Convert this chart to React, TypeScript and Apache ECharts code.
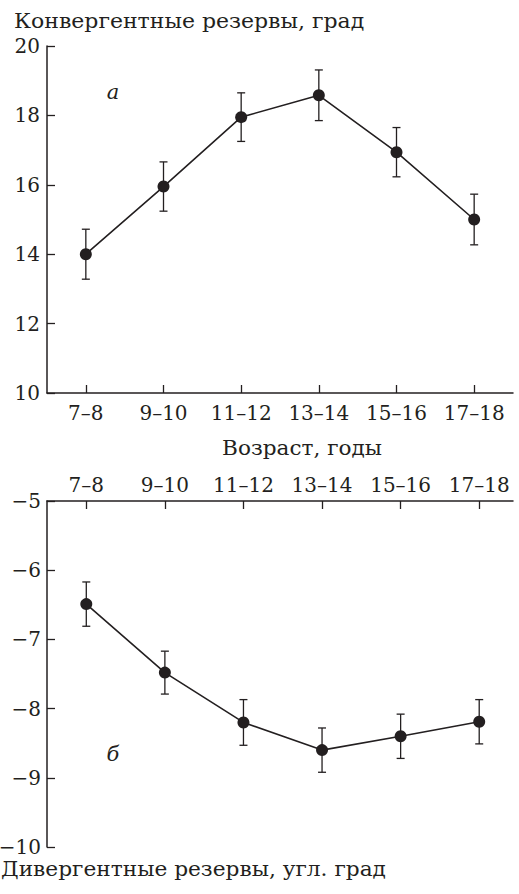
import React, { useEffect, useRef } from "react";
import * as echarts from "echarts";

const categories = ["7–8", "9–10", "11–12", "13–14", "15–16", "17–18"];
const convergent = [14.0, 15.95, 17.95, 18.58, 16.94, 15.0];
const convergentErr = [0.72, 0.71, 0.7, 0.73, 0.71, 0.73];
const divergent = [-6.49, -7.48, -8.2, -8.6, -8.4, -8.19];
const divergentErr = [0.32, 0.31, 0.33, 0.32, 0.32, 0.32];
const convTicks = [10, 12, 14, 16, 18, 20];
const divTicks = [-10, -9, -8, -7, -6, -5];

const FONT = "DejaVu Serif";
const INK = "#231f20";

function errorSeries(xAxisIndex: number, yAxisIndex: number, values: number[], errs: number[]) {
  return {
    type: "custom",
    xAxisIndex,
    yAxisIndex,
    silent: true,
    z: 3,
    data: values.map((v, i) => [i, v, errs[i]]),
    renderItem: (params: any, api: any) => {
      const x = api.value(0);
      const v = api.value(1);
      const e = api.value(2);
      const top = api.coord([x, v + e]);
      const bot = api.coord([x, v - e]);
      const hw = 4;
      const style = { stroke: INK, lineWidth: 1.3 };
      return {
        type: "group",
        children: [
          { type: "line", shape: { x1: top[0], y1: top[1], x2: bot[0], y2: bot[1] }, style },
          { type: "line", shape: { x1: top[0] - hw, y1: top[1], x2: top[0] + hw, y2: top[1] }, style },
          { type: "line", shape: { x1: bot[0] - hw, y1: bot[1], x2: bot[0] + hw, y2: bot[1] }, style },
        ],
      };
    },
  };
}

export default function App() {
  const ref = useRef<HTMLDivElement>(null);
  useEffect(() => {
    const chart = echarts.init(ref.current!, null, { renderer: "svg" });
    const axisLine = { show: true, onZero: false, lineStyle: { color: INK, width: 1.5 } };
    const axisTick = { show: true, inside: true, length: 8, lineStyle: { color: INK, width: 1.3 } };
    const labelStyle = { color: INK, fontFamily: FONT, fontSize: 20 };
    const idx = categories.map((_, i) => i);
    const minus = (v: number) => (v < 0 ? "−" + Math.abs(v) : String(v));
    const titleFont = `20px ${FONT}`;
    chart.setOption({
      animation: false,
      backgroundColor: "#ffffff",
      grid: [
        { left: 47, top: 46, width: 466, height: 347, outerBoundsMode: "none", containLabel: false },
        { left: 47, top: 501, width: 466, height: 346, outerBoundsMode: "none", containLabel: false },
      ],
      xAxis: [
        {
          type: "value",
          gridIndex: 0,
          min: -0.5,
          max: 5.5,
          interval: 0.5,
          splitLine: { show: false },
          axisLine,
          axisTick: { ...axisTick, customValues: idx },
          axisLabel: {
            ...labelStyle,
            margin: 10,
            customValues: idx,
            formatter: (v: number) => categories[Math.round(v)] ?? "",
          },
        },
        {
          type: "value",
          gridIndex: 1,
          position: "top",
          min: -0.5,
          max: 5.43,
          interval: 0.01,
          splitLine: { show: false },
          axisLine,
          axisTick: { ...axisTick, customValues: idx },
          axisLabel: {
            ...labelStyle,
            margin: 6,
            customValues: idx,
            formatter: (v: number) => categories[Math.round(v)] ?? "",
          },
        },
      ],
      yAxis: [
        {
          type: "value",
          gridIndex: 0,
          min: convTicks[0],
          max: convTicks[convTicks.length - 1],
          interval: 2,
          splitLine: { show: false },
          axisLine,
          axisTick,
          axisLabel: { ...labelStyle, margin: 7 },
        },
        {
          type: "value",
          gridIndex: 1,
          min: divTicks[0],
          max: divTicks[divTicks.length - 1],
          interval: 1,
          splitLine: { show: false },
          axisLine,
          axisTick,
          axisLabel: { ...labelStyle, margin: 6, formatter: minus },
        },
      ],
      graphic: [
        {
          type: "text",
          x: 14,
          y: 21,
          scaleX: 1.1,
          style: { text: "Конвергентные резервы, град", fill: INK, font: titleFont, verticalAlign: "middle" },
        },
        {
          type: "text",
          x: 302,
          y: 448,
          scaleX: 1.08,
          style: { text: "Возраст, годы", fill: INK, font: titleFont, align: "center", verticalAlign: "middle" },
        },
        {
          type: "text",
          x: 1,
          y: 869,
          scaleX: 1.085,
          style: { text: "Дивергентные резервы, угл. град", fill: INK, font: titleFont, verticalAlign: "middle" },
        },
        {
          type: "text",
          x: 113,
          y: 92,
          style: { text: "а", fill: INK, font: `italic 21px ${FONT}`, align: "center", verticalAlign: "middle" },
        },
        {
          type: "text",
          x: 113,
          y: 754,
          style: { text: "б", fill: INK, font: `italic 21px ${FONT}`, align: "center", verticalAlign: "middle" },
        },
      ],
      series: [
        errorSeries(0, 0, convergent, convergentErr),
        {
          type: "line",
          xAxisIndex: 0,
          yAxisIndex: 0,
          data: convergent.map((v, i) => [i, v]),
          symbol: "circle",
          symbolSize: 12,
          lineStyle: { color: INK, width: 1.6 },
          itemStyle: { color: INK },
          z: 4,
        },
        errorSeries(1, 1, divergent, divergentErr),
        {
          type: "line",
          xAxisIndex: 1,
          yAxisIndex: 1,
          data: divergent.map((v, i) => [i, v]),
          symbol: "circle",
          symbolSize: 12,
          lineStyle: { color: INK, width: 1.6 },
          itemStyle: { color: INK },
          z: 4,
        },
      ],
    });
    return () => chart.dispose();
  }, []);
  return (
    <div
      ref={ref}
      style={{ position: "fixed", left: 0, top: 0, width: 519, height: 894, background: "#fff" }}
    />
  );
}
